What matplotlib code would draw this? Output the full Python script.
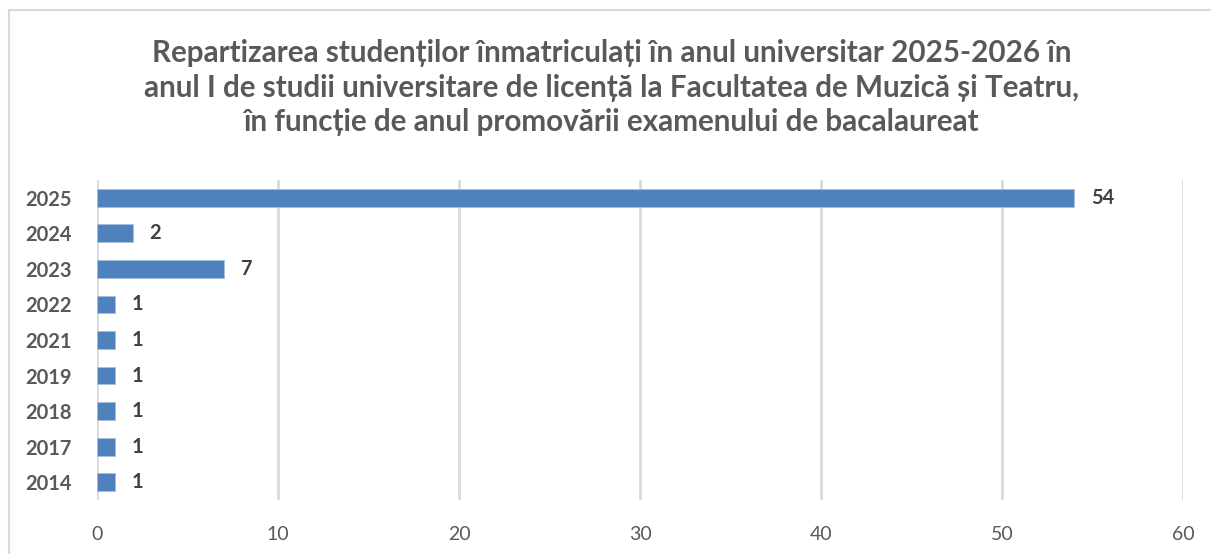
import matplotlib.pyplot as plt
from matplotlib.patches import Rectangle

plt.rcParams['font.family'] = ['Lato', 'DejaVu Sans']

ani = ['2025', '2024', '2023', '2022', '2021', '2019', '2018', '2017', '2014']
studenti = [54, 2, 7, 1, 1, 1, 1, 1, 1]

titlu = ('Repartizarea studenților înmatriculați în anul universitar 2025-2026 în\n'
         'anul I de studii universitare de licență la Facultatea de Muzică și Teatru,\n'
         'în funcție de anul promovării examenului de bacalaureat')

fig = plt.figure(figsize=(12.11, 5.54), dpi=100)
ax = fig.add_axes([0.0801, 0.0975, 0.8968, 0.5776])

# chenarul graficului (taiat in dreapta si jos)
fig.patches.append(Rectangle((0.0074, -0.05), 1.05, 1.032, transform=fig.transFigure,
                             fill=False, edgecolor='#D9D9D9', linewidth=1.5))

y = list(range(len(ani)))
ax.barh(y, studenti, height=0.5, color='#4F81BD', edgecolor='#A7C0DE', linewidth=0.6, zorder=3)
for yi, v in zip(y, studenti):
    ax.text(v + 0.9, yi, str(v), va='center', ha='left', fontsize=14.5,
            fontweight='bold', color='#404040')

ax.set_yticks(y)
ax.set_yticklabels(ani, fontsize=14.5, fontweight='bold', color='#595959')
ax.set_ylim(len(ani) - 0.5, -0.5)
ax.set_xlim(0, 60)
ax.set_xticks(range(0, 61, 10))
ax.tick_params(axis='x', labelsize=14, colors='#595959', length=0, pad=19)
ax.tick_params(axis='y', length=0, pad=18)
ax.grid(axis='x', color='#D9D9D9', linewidth=2, zorder=0)
for s in ax.spines.values():
    s.set_visible(False)

fig.text(0.505, 0.842, titlu, ha='center', va='center', fontsize=21.3,
         fontweight='bold', color='#595959', linespacing=1.28)

fig.savefig('out.png', dpi=100)
